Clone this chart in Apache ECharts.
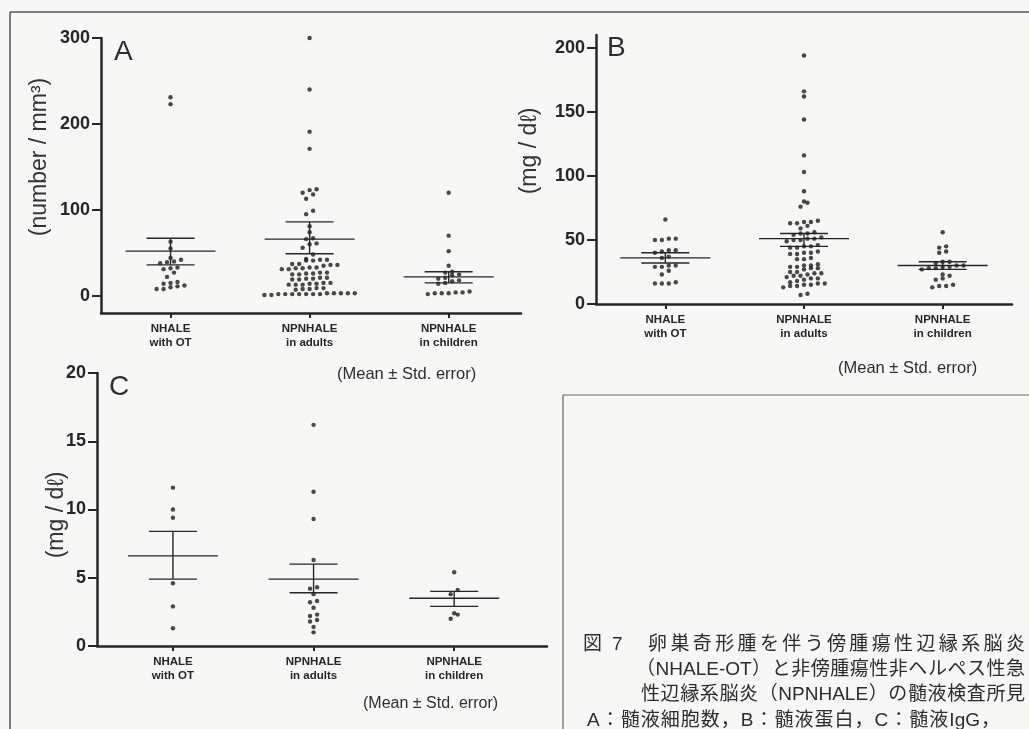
<!DOCTYPE html>
<html>
<head>
<meta charset="utf-8">
<script src="https://cdn.jsdelivr.net/npm/echarts@6/dist/echarts.min.js"></script>
<style>
  html, body { margin: 0; padding: 0; background: #f7f8f5; }
  #chart { width: 1029px; height: 729px; }
</style>
</head>
<body>
<div id="chart"></div>
<script>
// 分類
const categories = ['NHALE\nwith OT', 'NPNHALE\nin adults', 'NPNHALE\nin children'];

// A: 髄液細胞数 (number / mm3)
const cellOT = [231, 223, 63, 55, 44, 42, 40, 39, 38, 33, 32, 31, 27, 22, 16, 15, 14, 12, 11, 10, 8, 8];
const cellAdults = [300, 240, 191, 171, 124, 123, 120, 118, 113, 99, 95, 81, 74, 67, 66, 61, 60, 56, 48,
  43, 42, 42, 41, 41, 37, 37, 36, 36, 35, 33, 33, 32, 32, 31, 31, 27, 27, 26, 26, 25, 25,
  21, 21, 20, 20, 19, 19, 15, 15, 14, 14, 13, 13, 13, 9, 9, 8, 8, 7,
  3, 3, 3, 3, 3, 2, 2, 2, 2, 2, 2, 2, 1, 1];
const cellChildren = [120, 70, 52, 35, 28, 27, 25, 24, 21, 20, 18, 17, 15, 14, 5, 4, 4, 3, 3, 3, 2];
const cellMean = [52, 66, 22];
const cellSeHigh = [67, 86, 28];
const cellSeLow = [36, 49, 15];
const cellTicks = [0, 100, 200, 300];

// B: 髄液蛋白 (mg / dl)
const protOT = [66, 51, 51, 50, 50, 42, 42, 41, 40, 37, 36, 30, 30, 29, 29, 26, 23, 17, 16, 16, 16];
const protAdults = [194, 166, 162, 144, 116, 103, 88, 80, 79, 76, 65, 64, 64, 63, 63, 61, 59, 56, 55, 55,
  54, 52, 51, 51, 50, 50, 49, 46, 45, 45, 44, 44, 41, 40, 40, 39, 39, 36, 35, 35,
  31, 30, 30, 29, 29, 28, 28, 27, 25, 25, 24, 24, 23, 22, 22, 21, 20, 20, 19, 18,
  17, 16, 16, 15, 15, 14, 14, 13, 8, 7];
const protChildren = [56, 45, 44, 41, 40, 33, 33, 32, 30, 30, 29, 29, 28, 28, 27, 23, 22, 20, 19, 15, 14, 14, 13];
const protMean = [36, 51, 30];
const protSeHigh = [40, 55, 33];
const protSeLow = [32, 45, 27];
const protTicks = [0, 50, 100, 150, 200];

// C: 髄液IgG (mg / dl)
const iggOT = [11.6, 10.0, 9.4, 4.6, 2.9, 1.3];
const iggAdults = [16.2, 11.3, 9.3, 6.3, 4.3, 4.2, 3.8, 3.3, 3.2, 2.8, 2.3, 2.2, 1.9, 1.8, 1.4, 1.0];
const iggChildren = [5.4, 4.1, 3.8, 2.4, 2.3, 2.0];
const iggMean = [6.6, 4.9, 3.5];
const iggSeHigh = [8.4, 6.0, 4.0];
const iggSeLow = [4.9, 3.9, 2.9];
const iggTicks = [0, 5, 10, 15, 20];

// 図の説明文
const captionLines = [
  '卵巣奇形腫を伴う傍腫瘍性辺縁系脳炎',
  '（NHALE-OT）と非傍腫瘍性非ヘルペス性急',
  '性辺縁系脳炎（NPNHALE）の髄液検査所見',
  'A：髄液細胞数，B：髄液蛋白，C：髄液IgG，'
];

const INK = '#262626';
const FONT = '"Liberation Sans", Arial, sans-serif';
const CJK = '"Liberation Sans", "Noto Sans CJK JP", sans-serif';

// 列散布図: 近い値を同じ行に並べる
function swarm(values, cx, bin, dx) {
  const out = [];
  let row = [];
  const flush = () => {
    row.forEach((v, i) => out.push([cx + (i - (row.length - 1) / 2) * dx, v]));
    row = [];
  };
  values.slice().sort((a, b) => a - b).forEach(v => {
    if (row.length && v - row[0] > bin) flush();
    row.push(v);
  });
  flush();
  return out;
}

function points(groups, bin, dx) {
  let data = [];
  groups.forEach((g, i) => { data = data.concat(swarm(g, i + 1, bin, dx)); });
  return data;
}

function stats(mean, hi, lo) {
  return mean.map((m, i) => [i + 1, m, lo[i], hi[i]]);
}

// 平均 ± 標準誤差
function renderStat(params, api) {
  const x = api.value(0);
  const pm = api.coord([x, api.value(1)]);
  const pl = api.coord([x, api.value(2)]);
  const ph = api.coord([x, api.value(3)]);
  const style = { stroke: INK, lineWidth: 1.4 };
  const seg = (x1, y1, x2, y2) => ({ type: 'line', shape: { x1, y1, x2, y2 }, style });
  return {
    type: 'group',
    children: [
      seg(pm[0] - 45, pm[1], pm[0] + 45, pm[1]),
      seg(ph[0] - 24, ph[1], ph[0] + 24, ph[1]),
      seg(pl[0] - 24, pl[1], pl[0] + 24, pl[1]),
      seg(ph[0], ph[1], pl[0], pl[1])
    ]
  };
}

function xAxisOf(idx, min, max) {
  return {
    type: 'value', gridIndex: idx, min, max,
    axisLine: { onZero: false, lineStyle: { color: INK, width: 2.5 } },
    axisTick: { customValues: [1, 2, 3], length: 5, lineStyle: { color: INK, width: 2 } },
    axisLabel: {
      customValues: [1, 2, 3], margin: 9,
      formatter: v => categories[Math.round(v) - 1],
      color: INK, fontFamily: FONT, fontWeight: 'bold', fontSize: 11.5, lineHeight: 14
    },
    splitLine: { show: false }
  };
}

function yAxisOf(idx, min, max, ticks) {
  return {
    type: 'value', gridIndex: idx, min, max,
    axisLine: { show: true, onZero: false, lineStyle: { color: INK, width: 2.5 } },
    axisTick: { show: true, customValues: ticks, length: 9, lineStyle: { color: INK, width: 2 } },
    axisLabel: { customValues: ticks, margin: 11, color: INK, fontFamily: FONT, fontWeight: 'bold', fontSize: 18 },
    splitLine: { show: false }
  };
}

function text(x, y, str, size, extra) {
  return {
    type: 'text', x, y,
    style: Object.assign({ text: str, fill: '#2e2e2e', font: `${size}px ${FONT}`, textAlign: 'left', textVerticalAlign: 'middle' }, extra || {})
  };
}

function vtext(x, y, str) {
  return {
    type: 'text', x, y, rotation: Math.PI / 2,
    style: { text: str, fill: '#333', font: `23px ${FONT}`, textAlign: 'center', textVerticalAlign: 'middle' }
  };
}

// 両端揃え: 文字ごとに均等配置
const measureCtx = document.createElement('canvas').getContext('2d');
function justify(str, x0, x1, y, size) {
  const font = `${size}px ${CJK}`;
  measureCtx.font = font;
  const tokens = str.match(/[A-Za-z0-9\-.]+|./gu);
  const widths = tokens.map(t => measureCtx.measureText(t).width);
  const total = widths.reduce((a, b) => a + b, 0);
  const gap = (x1 - x0 - total) / (tokens.length - 1);
  let x = x0;
  return tokens.map((t, i) => {
    const el = text(x, y, t, size, { font, fill: '#2c2c2c' });
    x += widths[i] + gap;
    return el;
  });
}

const dot = { symbol: 'circle', symbolSize: 4.4, itemStyle: { color: '#1c1c1c' } };

const option = {
  backgroundColor: '#f7f8f5',
  animation: false,
  grid: [
    { left: 101, top: 38, width: 420, height: 275 },
    { left: 596, top: 35, width: 416, height: 269 },
    { left: 97, top: 373, width: 450, height: 273 }
  ],
  xAxis: [xAxisOf(0, 0.5, 3.52), xAxisOf(1, 0.5, 3.5), xAxisOf(2, 0.46, 3.66)],
  yAxis: [yAxisOf(0, -20, 300, cellTicks), yAxisOf(1, 0, 210, protTicks), yAxisOf(2, 0, 20, iggTicks)],
  series: [
    Object.assign({ type: 'scatter', xAxisIndex: 0, yAxisIndex: 0,
      data: points([cellOT, cellAdults, cellChildren], 5, 0.05) }, dot),
    Object.assign({ type: 'scatter', xAxisIndex: 1, yAxisIndex: 1,
      data: points([protOT, protAdults, protChildren], 3.5, 0.05) }, dot),
    Object.assign({ type: 'scatter', xAxisIndex: 2, yAxisIndex: 2,
      data: points([iggOT, iggAdults, iggChildren], 0.35, 0.05) }, dot),
    { type: 'custom', xAxisIndex: 0, yAxisIndex: 0, renderItem: renderStat,
      data: stats(cellMean, cellSeHigh, cellSeLow), z: 3 },
    { type: 'custom', xAxisIndex: 1, yAxisIndex: 1, renderItem: renderStat,
      data: stats(protMean, protSeHigh, protSeLow), z: 3 },
    { type: 'custom', xAxisIndex: 2, yAxisIndex: 2, renderItem: renderStat,
      data: stats(iggMean, iggSeHigh, iggSeLow), z: 3 }
  ],
  graphic: [
    // 枠線
    { type: 'line', shape: { x1: 10, y1: 12, x2: 1029, y2: 12 }, style: { stroke: '#555', lineWidth: 1.5 } },
    { type: 'line', shape: { x1: 10, y1: 12, x2: 10, y2: 729 }, style: { stroke: '#555', lineWidth: 1.5 } },
    { type: 'line', shape: { x1: 563, y1: 395, x2: 1029, y2: 395 }, style: { stroke: '#666', lineWidth: 1.2 } },
    { type: 'line', shape: { x1: 563, y1: 395, x2: 563, y2: 729 }, style: { stroke: '#666', lineWidth: 1.2 } },
    // パネル記号
    text(114, 52, 'A', 28),
    text(607, 48, 'B', 28),
    text(109, 387, 'C', 28),
    // 軸名
    vtext(40, 157, '(number / mm³)'),
    vtext(530, 151, '(mg / dℓ)'),
    vtext(57, 515, '(mg / dℓ)'),
    // 注記
    text(337, 374, '(Mean ± Std. error)', 16.5),
    text(838, 368, '(Mean ± Std. error)', 16.5),
    text(363, 704, '(Mean ± Std. error)', 16)
  ]
    // 図の説明
    .concat([text(583, 645, '図', 19, { font: `19px ${CJK}`, fill: '#2c2c2c' }),
             text(612, 645, '7', 19, { font: `19px ${CJK}`, fill: '#2c2c2c' })])
    .concat(justify(captionLines[0], 648, 1025, 645, 19))
    .concat(justify(captionLines[1], 636, 1025, 670, 19))
    .concat(justify(captionLines[2], 641, 1025, 695, 19))
    .concat(justify(captionLines[3], 587, 1000, 721, 19))
};

const chart = echarts.init(document.getElementById('chart'));
chart.setOption(option);
</script>
</body>
</html>
